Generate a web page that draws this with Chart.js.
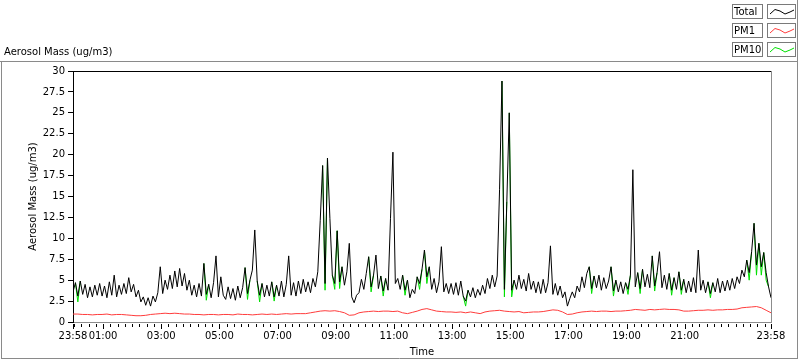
<!DOCTYPE html>
<html><head><meta charset="utf-8">
<script src="https://cdn.jsdelivr.net/npm/chart.js@4.4.0/dist/chart.umd.min.js"></script>
<style>html,body{margin:0;padding:0;background:#fff;overflow:hidden}#wrap{position:relative;width:800px;height:361px}</style>
</head><body><div id="wrap"><canvas id="c" width="800" height="361"></canvas></div>
<script>
// ---- data ----
const seriesNames = ['Total', 'PM1', 'PM10'];
const chartTitle = 'Aerosol Mass (ug/m3)';
const xTitle = 'Time';
// Total: one sample every 5 minutes from 23:58 to 23:58
const totalStepMin = 5;
const total = [
3.6,4.7,3.1,4.9,3.3,4.5,2.9,4.2,3.0,4.4,3.2,4.6,
3.1,4.3,2.9,4.8,3.2,5.6,3.0,4.4,3.3,4.6,3.4,5.3,
3.6,4.5,3.0,3.8,2.4,3.0,2.0,2.9,1.9,3.1,2.4,3.5,
6.6,3.4,5.0,3.9,5.6,4.0,6.1,4.2,6.4,4.3,5.8,3.8,
5.0,3.2,4.4,3.0,4.6,3.1,7.0,3.3,4.5,2.9,4.7,7.9,
3.0,5.4,3.2,2.7,4.2,2.8,4.0,2.6,4.3,2.9,4.1,6.5,
3.4,5.0,6.2,11.0,4.9,3.2,4.6,3.0,4.4,3.1,4.8,3.0,
4.4,3.1,4.9,3.0,4.5,7.9,3.2,4.7,3.1,4.9,3.4,5.1,
3.6,4.8,3.5,5.2,4.2,6.0,12.1,18.7,4.6,19.6,12.4,5.6,
4.6,10.9,4.8,6.6,4.4,6.0,9.4,3.0,2.3,3.2,3.5,5.1,
3.9,5.8,7.8,4.2,5.6,8.0,4.0,5.5,3.7,5.2,3.8,12.4,
20.3,4.6,5.2,3.9,5.6,3.8,5.0,2.9,3.9,3.4,5.4,4.6,
6.3,8.6,5.4,6.6,3.9,5.2,3.5,4.8,9.0,3.6,4.6,3.4,
4.6,3.3,4.7,3.2,4.9,3.1,2.5,3.8,3.0,4.1,2.9,3.9,
3.2,4.4,3.4,5.2,4.0,5.6,4.2,5.5,15.8,28.8,3.9,14.4,
25.0,3.8,5.0,3.9,5.6,4.0,5.1,3.7,5.8,3.9,4.9,3.5,
4.8,3.4,5.1,3.5,4.7,9.1,3.3,4.6,3.2,4.3,2.9,3.6,
1.9,2.8,3.6,2.9,4.3,3.6,5.4,4.1,5.8,6.6,4.0,5.5,
4.1,5.6,3.8,5.3,4.0,4.9,6.6,3.7,5.0,3.6,4.8,3.4,
4.7,3.9,5.6,18.2,4.2,5.9,4.0,6.3,4.2,5.7,4.1,7.9,
4.3,5.9,8.4,4.1,5.6,3.9,5.8,3.8,5.3,3.9,6.0,3.8,
5.1,3.5,4.9,3.6,5.3,3.5,8.6,3.8,5.0,3.5,4.8,3.4,
4.7,3.6,5.2,3.5,4.9,3.7,5.0,3.8,5.2,4.0,5.4,4.6,
6.2,5.4,7.4,5.9,8.4,11.8,6.8,9.4,6.6,8.3,5.9,4.2,
2.9];
// PM10: same sampling as Total
const pm10StepMin = 5;
const pm10 = [
3.6,4.7,2.4,4.9,3.3,4.5,2.9,4.2,3.0,4.4,3.2,4.6,
3.1,4.3,2.9,4.8,3.2,5.6,3.0,4.4,3.3,4.6,3.4,5.3,
3.6,4.5,3.0,3.8,2.4,3.0,2.0,2.9,1.9,3.1,2.4,3.5,
6.6,3.4,5.0,3.9,5.6,4.0,6.1,4.2,6.4,4.3,5.8,3.8,
5.0,3.2,4.4,3.0,4.6,3.1,7.0,2.6,4.5,2.9,4.7,7.9,
3.0,5.4,3.2,2.7,4.2,2.8,4.0,2.6,4.3,2.9,4.1,6.5,
2.7,5.0,6.2,11.0,4.9,2.4,4.6,3.0,4.4,3.1,4.8,2.5,
4.4,3.1,4.9,3.0,4.5,7.9,3.2,4.7,3.1,4.9,3.4,5.1,
3.6,4.8,3.5,5.2,4.2,6.0,12.1,18.7,3.8,19.6,12.4,5.6,
3.9,10.9,4.0,6.6,4.4,6.0,9.4,3.0,2.3,3.2,3.5,5.1,
3.9,5.8,7.8,3.6,5.6,8.0,4.0,5.5,3.1,5.2,3.8,12.4,
20.3,4.6,5.2,3.9,5.6,3.2,5.0,2.9,3.9,3.4,5.4,3.9,
6.3,8.6,4.6,6.6,3.9,5.2,3.5,4.8,9.0,3.6,4.6,3.4,
4.6,3.3,4.7,3.2,4.9,3.1,1.9,3.8,3.0,4.1,2.9,3.9,
3.2,4.4,3.4,5.2,4.0,5.6,4.2,5.5,15.8,28.8,3.0,14.4,
25.0,3.0,5.0,3.9,5.6,4.0,5.1,3.7,5.8,3.9,4.9,3.5,
4.8,3.4,5.1,3.5,4.7,9.1,3.3,4.6,3.2,4.3,2.9,3.6,
1.9,2.8,3.6,2.9,4.3,3.6,5.4,4.1,5.8,6.6,3.4,5.5,
4.1,5.6,3.8,5.3,4.0,4.9,6.6,3.1,5.0,3.6,4.8,3.4,
4.7,3.3,5.6,18.2,4.2,5.9,3.4,6.3,4.2,5.7,4.1,7.9,
3.7,5.9,8.4,4.1,5.6,3.9,5.8,3.2,5.3,3.9,6.0,3.3,
5.1,3.5,4.9,3.6,5.3,3.5,8.6,3.8,5.0,3.5,4.8,2.9,
4.7,3.6,5.2,3.5,4.9,3.7,5.0,3.8,5.2,4.0,5.4,4.6,
6.2,5.4,7.4,5.0,8.4,11.8,5.6,9.4,5.6,8.3,5.0,4.2,
2.9];
// PM1: one sample every 10 minutes
const pm1StepMin = 10;
const pm1 = [
0.95,0.95,0.9,0.9,0.85,0.9,
0.9,0.95,0.85,0.9,0.9,0.85,
0.8,0.75,0.75,0.8,0.9,0.95,
1.0,1.05,1.0,1.05,1.0,0.95,
0.95,0.9,0.9,0.85,0.9,0.9,
0.85,0.9,0.9,0.85,0.95,0.9,
0.9,0.85,0.9,0.95,0.9,0.95,
0.9,0.95,1.0,0.95,1.0,1.0,
1.0,1.1,1.2,1.3,1.35,1.3,
1.35,1.25,1.1,0.8,0.85,1.1,
1.2,1.25,1.3,1.25,1.3,1.3,
1.25,1.3,1.1,1.0,1.15,1.3,
1.5,1.6,1.45,1.3,1.25,1.2,
1.2,1.15,1.2,1.1,1.2,1.1,
1.0,1.2,1.3,1.35,1.4,1.3,
1.25,1.2,1.25,1.1,1.15,1.2,
1.2,1.25,1.35,1.45,1.4,1.2,
0.9,0.95,1.1,1.2,1.25,1.3,
1.25,1.3,1.3,1.25,1.3,1.3,
1.35,1.4,1.5,1.45,1.4,1.5,
1.45,1.5,1.55,1.5,1.5,1.45,
1.3,1.3,1.35,1.4,1.4,1.45,
1.4,1.45,1.45,1.5,1.5,1.55,
1.7,1.75,1.8,1.85,1.7,1.4,
1.1];
// tick labels (minutes since 23:58)
const xTickMinutes = [0,62,182,302,422,542,662,782,902,1022,1142,1262,1440];
const xTickLabels = ['23:58','01:00','03:00','05:00','07:00','09:00','11:00','13:00','15:00','17:00','19:00','21:00','23:58'];
const yTickValues = [0,2.5,5,7.5,10,12.5,15,17.5,20,22.5,25,27.5,30];
const yTickLabels = ['0','2.5','5','7.5','10','12.5','15','17.5','20','22.5','25','27.5','30'];
const seriesColors = ['#000000', '#ff3c3c', '#00e000'];

// ---- chart ----
const FONT = 'DejaVu Sans';
Chart.defaults.font.family = FONT;
Chart.defaults.font.size = 10;
Chart.defaults.color = '#000';

function toXY(arr, step) { return arr.map((v, i) => ({x: i * step, y: v})); }

// minor x ticks every 15 minutes of clock time (00:00 is minute 2)
const minorTicks = [];
for (let m = 2; m < 1440; m += 15) minorTicks.push(m);

// PM10 segments hidden where PM10 coincides with Total (Total is drawn on top)
const pm10Segment = ctx => {
  const a = ctx.p0DataIndex, b = ctx.p1DataIndex;
  return (pm10[a] === total[a] && pm10[b] === total[b]) ? 'rgba(0,0,0,0)' : undefined;
};

const framePlugin = {
  id: 'frame',
  beforeDraw(chart) {
    const c = chart.ctx;
    c.save(); c.fillStyle = '#fff'; c.fillRect(0, 0, chart.width, chart.height); c.restore();
  },
  afterDraw(chart) {
    const c = chart.ctx, a = chart.chartArea, xs = chart.scales.x;
    c.save();
    c.lineWidth = 1;
    c.strokeStyle = '#000';
    c.beginPath(); c.moveTo(a.left, a.top + 0.5); c.lineTo(a.right, a.top + 0.5); c.stroke();
    c.strokeStyle = '#8c8c8c';
    c.beginPath(); c.moveTo(a.right + 0.5, a.top); c.lineTo(a.right + 0.5, a.bottom); c.stroke();
    c.strokeStyle = '#000';
    c.beginPath();
    minorTicks.forEach(m => { const px = Math.round(xs.getPixelForValue(m)) + 0.5; c.moveTo(px, a.bottom + 2); c.lineTo(px, a.bottom + 5); });
    xTickMinutes.forEach(m => { const px = Math.round(xs.getPixelForValue(m)) + 0.5; c.moveTo(px, a.bottom + 2); c.lineTo(px, a.bottom + 7); });
    c.stroke();
    c.strokeStyle = '#8a8a8a';
    c.beginPath();
    c.moveTo(0, 61.5); c.lineTo(798, 61.5);
    c.moveTo(1.5, 61); c.lineTo(1.5, 359);
    c.moveTo(1, 358.5); c.lineTo(798, 358.5);
    c.moveTo(797.5, 0); c.lineTo(797.5, 359);
    c.stroke();
    c.fillStyle = '#000'; c.font = '10px "' + FONT + '"';
    c.textBaseline = 'middle'; c.textAlign = 'left';
    c.fillText(chartTitle, 4, 52);
    chart.data.datasets.forEach((ds, k) => {
      const y0 = 4 + k * 19;
      c.fillStyle = '#fff';
      c.fillRect(732, y0, 31, 14); c.fillRect(767, y0, 29, 14);
      c.strokeStyle = '#7a7a7a';
      c.strokeRect(732.5, y0 + 0.5, 30, 14);
      c.strokeRect(767.5, y0 + 0.5, 28, 14);
      c.fillStyle = '#000';
      c.fillText(ds.label, 734, y0 + 8);
      c.strokeStyle = ds.borderColor;
      c.beginPath();
      c.moveTo(770, y0 + 10); c.lineTo(775, y0 + 5.5); c.lineTo(780, y0 + 7);
      c.lineTo(785, y0 + 10); c.lineTo(790, y0 + 8); c.lineTo(794, y0 + 6);
      c.stroke();
    });
    c.restore();
  }
};

new Chart(document.getElementById('c'), {
  type: 'line',
  data: {
    datasets: [
      {label: seriesNames[0], data: toXY(total, totalStepMin), borderColor: seriesColors[0], borderWidth: 1, pointRadius: 0, tension: 0, order: 0},
      {label: seriesNames[1], data: toXY(pm1, pm1StepMin), borderColor: seriesColors[1], borderWidth: 1, pointRadius: 0, tension: 0, order: 2},
      {label: seriesNames[2], data: toXY(pm10, pm10StepMin), borderColor: seriesColors[2], borderWidth: 1, pointRadius: 0, tension: 0, order: 1,
        segment: {borderColor: pm10Segment}}
    ]
  },
  options: {
    responsive: false, animation: false, events: [],
    layout: {padding: {top: 71, right: 29, left: 0, bottom: 0}},
    plugins: {legend: {display: false}, tooltip: {enabled: false}},
    scales: {
      x: {
        type: 'linear', min: 0, max: 1440,
        afterBuildTicks: s => { s.ticks = xTickMinutes.map(v => ({value: v})); },
        afterFit: s => { s.height = 39; },
        ticks: {autoSkip: false, maxRotation: 0, minRotation: 0, padding: 8, color: '#000',
          callback: (v, i) => xTickLabels[i]},
        grid: {display: true, drawOnChartArea: false, drawTicks: false},
        border: {color: '#8c8c8c', width: 1},
        title: {display: true, text: xTitle, color: '#000', padding: {top: 0, bottom: 3}}
      },
      y: {
        min: 0, max: 30,
        afterBuildTicks: s => { s.ticks = yTickValues.map(v => ({value: v})); },
        afterFit: s => { s.width = 73; },
        ticks: {autoSkip: false, padding: 3, color: '#000', callback: (v, i) => yTickLabels[i]},
        grid: {drawOnChartArea: false, tickLength: 5, tickColor: '#000'},
        border: {color: '#000', width: 1},
        title: {display: true, text: chartTitle, color: '#000', padding: {top: 27, bottom: 0}}
      }
    }
  },
  plugins: [framePlugin]
});
</script></body></html>
